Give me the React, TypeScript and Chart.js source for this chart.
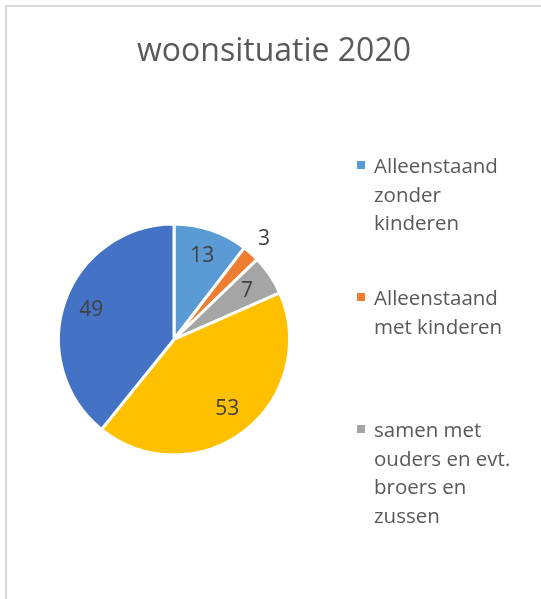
import React, { useEffect, useRef } from "react";
import { Chart, registerables } from "chart.js";

Chart.register(...registerables);

const TITLE = "woonsituatie 2020";
const categories = [
  "Alleenstaand zonder kinderen",
  "Alleenstaand met kinderen",
  "samen met ouders en evt. broers en zussen",
  "samen met partner met kinderen",
  "samen met partner zonder kinderen",
];
const legendLines = [
  ["Alleenstaand", "zonder", "kinderen"],
  ["Alleenstaand", "met kinderen"],
  ["samen met", "ouders en evt.", "broers en", "zussen"],
];
const values = [13, 3, 7, 53, 49];
const colors = ["#5B9BD5", "#ED7D31", "#A5A5A5", "#FFC000", "#4472C4"];

// layout constants
const LEGEND_TOPS = [151, 283, 415];
const FONT = "'Open Sans', sans-serif";

const labelPlugin = {
  id: "sliceLabels",
  afterDatasetsDraw(chart: any) {
    const ctx = chart.ctx;
    const meta = chart.getDatasetMeta(0);
    const data = chart.data.datasets[0].data as number[];
    const total = data.reduce((a, b) => a + b, 0);
    ctx.save();
    ctx.fillStyle = "#404040";
    ctx.font = `21px ${FONT}`;
    ctx.textAlign = "center";
    ctx.textBaseline = "middle";
    meta.data.forEach((arc: any, i: number) => {
      const p = arc.getProps(["startAngle", "endAngle", "outerRadius", "x", "y"], true);
      const mid = (p.startAngle + p.endAngle) / 2;
      const small = data[i] / total < 0.04;
      const r = p.outerRadius * (small ? 1.17 : 0.76);
      ctx.fillText(String(data[i]), p.x + Math.cos(mid) * r, p.y + Math.sin(mid) * r);
    });
    ctx.restore();
  },
};

export default function App() {
  const ref = useRef<HTMLCanvasElement>(null);
  useEffect(() => {
    const chart = new Chart(ref.current!, {
      type: "pie",
      data: {
        labels: categories,
        datasets: [
          {
            data: values,
            backgroundColor: colors,
            borderColor: "#FFFFFF",
            borderWidth: 3,
          },
        ],
      },
      options: {
        responsive: false,
        animation: false,
        layout: { padding: { left: 57, right: 250, top: 222, bottom: 142 } },
        plugins: {
          legend: { display: false },
          title: { display: false },
          tooltip: { enabled: false },
        },
      },
      plugins: [labelPlugin],
    });
    return () => chart.destroy();
  }, []);

  return (
    <div>
      <div
        style={{
          position: "fixed",
          left: 5,
          top: 5,
          width: 536,
          height: 594,
          borderLeft: "2px solid #D9D9D9",
          borderTop: "2px solid #D9D9D9",
          boxSizing: "border-box",
        }}
      />
      <canvas
        ref={ref}
        width={541}
        height={599}
        style={{ position: "fixed", left: 0, top: 0, width: 541, height: 599 }}
      />
      <div
        style={{
          position: "fixed",
          left: 6,
          width: 536,
          top: 27,
          textAlign: "center",
          fontFamily: FONT,
          fontSize: 32,
          lineHeight: "44px",
          color: "#595959",
        }}
      >
        {TITLE}
      </div>
      {legendLines.map((lines, i) => (
        <div
          key={i}
          style={{
            position: "fixed",
            left: 357,
            top: LEGEND_TOPS[i],
            fontFamily: FONT,
            fontSize: 20.5,
            lineHeight: "28.5px",
            color: "#595959",
          }}
        >
          <span
            style={{
              position: "absolute",
              left: 0,
              top: 10,
              width: 8,
              height: 8,
              background: colors[i],
            }}
          />
          <div style={{ marginLeft: 17 }}>
            {lines.map((l, j) => (
              <div key={j} style={{ whiteSpace: "nowrap" }}>
                {l}
              </div>
            ))}
          </div>
        </div>
      ))}
    </div>
  );
}
